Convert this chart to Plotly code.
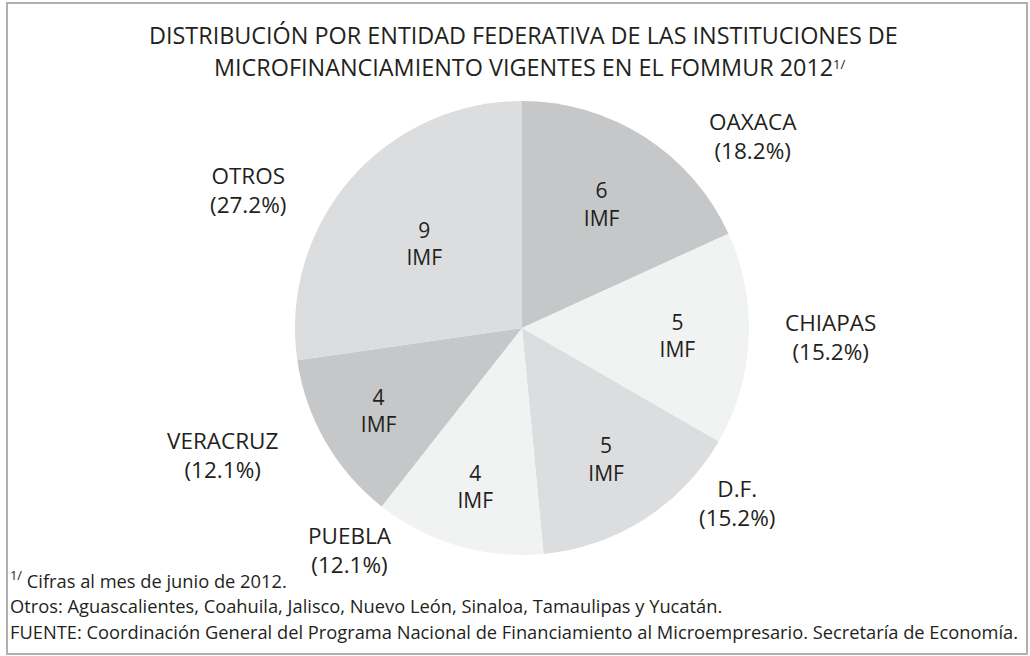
import plotly.graph_objects as go

# Data
estados = ["OAXACA", "CHIAPAS", "D.F.", "PUEBLA", "VERACRUZ", "OTROS"]
imf = [6, 5, 5, 4, 4, 9]
porcentajes = ["18.2%", "15.2%", "15.2%", "12.1%", "12.1%", "27.2%"]
colores = ["#c6c7c9", "#f1f2f2", "#dcdddf", "#f1f2f2", "#c6c7c9", "#dcdddf"]
titulo = ["DISTRIBUCIÓN POR ENTIDAD FEDERATIVA DE LAS INSTITUCIONES DE",
          "MICROFINANCIAMIENTO VIGENTES EN EL FOMMUR 2012"]
titulo_nota = "1/"
notas = [
    "<sup>1/</sup> Cifras al mes de junio de 2012.",
    "Otros: Aguascalientes, Coahuila, Jalisco, Nuevo León, Sinaloa, Tamaulipas y Yucatán.",
    "FUENTE: Coordinación General del Programa Nacional de Financiamiento al Microempresario. Secretaría de Economía.",
]

W, H = 1030, 656
cx, cy, r = 522, 328, 227
txt = "#231f20"
font = "Open Sans"

fig = go.Figure(go.Pie(
    labels=estados,
    values=imf,
    sort=False,
    direction="clockwise",
    rotation=0,
    marker=dict(colors=colores, line=dict(width=0)),
    texttemplate="%{value}<br>IMF",
    textposition="inside",
    insidetextorientation="horizontal",
    textfont=dict(family=font, size=21, color=txt),
    hoverinfo="label+value+percent",
    showlegend=False,
    domain=dict(x=[(cx - r) / W, (cx + r) / W], y=[(H - cy - r) / H, (H - cy + r) / H]),
))

# outside label positions (pixels) for the state names
label_pos = [(753, 136), (830, 337), (737, 503), (350, 550), (222, 455), (248, 190)]
annotations = []
for name, pct, (px, py) in zip(estados, porcentajes, label_pos):
    annotations.append(dict(
        x=px / W, y=1 - py / H, xref="paper", yref="paper",
        text=f"{name}<br>({pct})", showarrow=False,
        font=dict(family=font, size=22.5, color=txt), align="center",
        xanchor="center", yanchor="middle",
    ))

# title lines
for i, (t, yy) in enumerate(zip(titulo, [35, 67])):
    annotations.append(dict(
        x=523 / W, y=1 - yy / H, xref="paper", yref="paper", text=t,
        showarrow=False, xanchor="center", yanchor="middle",
        font=dict(family=font, size=23.4, color=txt),
    ))
annotations.append(dict(
    x=831 / W, y=1 - 53 / H, xref="paper", yref="paper", text=titulo_nota,
    showarrow=False, xanchor="left", yanchor="top",
    font=dict(family=font, size=13, color=txt),
))

for i, n in enumerate(notas):
    annotations.append(dict(
        x=8 / W, y=1 - (579 + 26 * i) / H, xref="paper", yref="paper",
        text=n, showarrow=False, align="left", xanchor="left", yanchor="middle",
        font=dict(family=font, size=18.3, color=txt),
    ))

fig.update_layout(
    width=W, height=H,
    margin=dict(l=0, r=0, t=0, b=0),
    paper_bgcolor="white", plot_bgcolor="white",
    annotations=annotations,
    shapes=[dict(type="rect", xref="paper", yref="paper",
                 x0=7 / W, x1=1027 / W, y0=1 - 654 / H, y1=1 - 3 / H,
                 line=dict(color="#b0b0b0", width=2))],
)

fig.write_html("out.html", config={"displayModeBar": False},
               post_script="document.body.style.margin='0';document.body.style.overflow='hidden';")
